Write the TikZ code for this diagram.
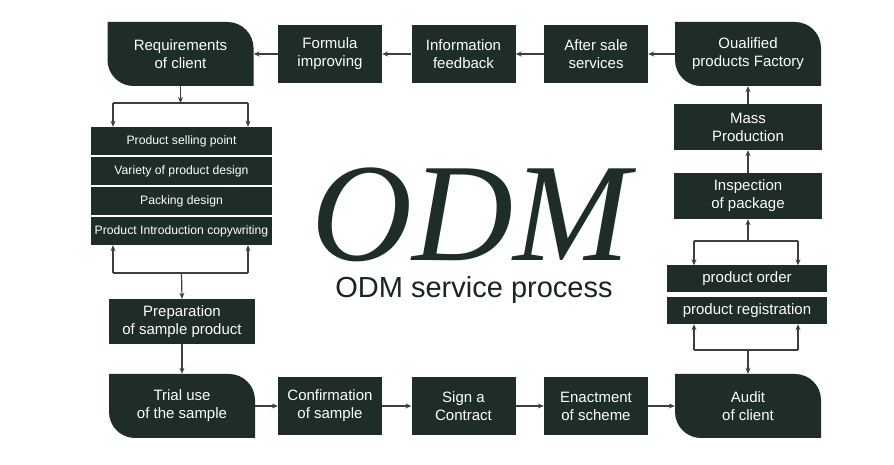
\documentclass[tikz,border=0pt]{standalone}
\usepackage{fontspec}
\setmainfont{Liberation Sans}
\newfontfamily\odmserif{Liberation Serif}
\usetikzlibrary{arrows.meta}

\definecolor{boxdark}{RGB}{30,44,42}
\definecolor{linegray}{RGB}{62,62,62}

\tikzset{
  stepbox/.style={fill=boxdark, text=white, align=center, inner sep=0pt,
    font=\fontsize{15}{18}\selectfont, minimum width=104pt, minimum height=58pt},
  leafbox/.style={stepbox, fill=none, minimum width=146pt, minimum height=64pt,
    path picture={
      \fill[boxdark] (path picture bounding box.north west)
        -- ([xshift=-26pt]path picture bounding box.north east)
        arc[start angle=90, end angle=0, radius=26pt]
        -- (path picture bounding box.south east)
        -- ([xshift=26pt]path picture bounding box.south west)
        arc[start angle=270, end angle=180, radius=26pt] -- cycle;}},
  listbox/.style={stepbox, minimum width=181pt, minimum height=28pt, font=\fontsize{12.2}{14}\selectfont},
  orderbox/.style={stepbox, minimum width=160pt, minimum height=27pt},
  wire/.style={draw=linegray, line width=1.2pt},
  flow/.style={wire, -{Stealth[length=6pt,width=5pt]}},
}

\begin{document}
\begin{tikzpicture}[x=1pt, y=1pt]
  \useasboundingbox (0,0) rectangle (894,465);
  \fill[white] (0,0) rectangle (894,465);

  % top row
  \node[leafbox] (req) at (180.5,411) {Requirements\\of client};
  \node[stepbox] (formula) at (330,411) {Formula\\improving};
  \node[stepbox] (info) at (463.5,411) {Information\\feedback};
  \node[stepbox] (after) at (596,411) {After sale\\services};
  \node[leafbox] (factory) at (748,411) {Oualified\\products Factory};

  % right column
  \node[stepbox, minimum width=148pt, minimum height=46pt] (mass) at (748,338) {Mass\\Production};
  \node[stepbox, minimum width=148pt, minimum height=46pt] (insp) at (748,269) {Inspection\\of package};
  \node[orderbox] (order) at (747,186) {product order};
  \node[orderbox] (regis) at (747,154.5) {product registration};

  % bottom row
  \node[leafbox] (trial) at (182,59) {Trial use\\of the sample};
  \node[stepbox] (confirm) at (330,59) {Confirmation\\of sample};
  \node[stepbox] (sign) at (463.5,59) {Sign a\\Contract};
  \node[stepbox] (enact) at (596,59) {Enactment\\of scheme};
  \node[leafbox] (audit) at (748,59) {Audit\\of client};

  % left column
  \node[listbox] (sell) at (181.5,324) {Product selling point};
  \node[listbox] (variety) at (181.5,294) {Variety of product design};
  \node[listbox] (packing) at (181.5,264) {Packing design};
  \node[listbox] (intro) at (181.5,234) {Product Introduction copywriting};
  \node[stepbox, minimum width=146pt, minimum height=45pt] (prep) at (182,143.5) {Preparation\\of sample product};

  % title
  \node[anchor=base, inner sep=0pt, text depth=0pt, text=boxdark,
    font=\odmserif\itshape\fontsize{140}{140}\selectfont] (odm) at (471,204) {ODM};
  \node[anchor=base, inner sep=0pt, text=boxdark!85!black,
    font=\fontsize{29}{30}\selectfont] (subtitle) at (474,167) {ODM service process};

  % branch points
  \coordinate (tl) at (180.5,362);
  \coordinate (tlw) at (113,362);
  \coordinate (tle) at (248,362);
  \coordinate (bl) at (181.5,192);
  \coordinate (blw) at (113,192);
  \coordinate (ble) at (248,192);
  \coordinate (tr) at (748,224);
  \coordinate (trw) at (694,224);
  \coordinate (tre) at (798,224);
  \coordinate (br) at (748,115);
  \coordinate (brw) at (694,115);
  \coordinate (bre) at (798,115);

  % connectors top row
  \draw[flow] (factory.west) -- (after.east);
  \draw[flow] (after.west) -- (info.east);
  \draw[flow] (info.west) -- (formula.east);
  \draw[flow] (formula.west) -- (req.east);

  % left side
  \draw[flow] (req.south) -- (tl);
  \draw[wire] (tlw) -- (tle);
  \draw[flow] (tlw) -- (sell.north -| tlw);
  \draw[flow] (tle) -- (sell.north -| tle);
  \draw[wire] (blw) -- (ble);
  \draw[flow] (blw) -- (intro.south -| blw);
  \draw[flow] (ble) -- (intro.south -| ble);
  \draw[flow] (bl) -- (prep.north);
  \draw[flow] (prep.south) -- (trial.north -| prep.south);

  % bottom row
  \draw[flow] (trial.east) -- (confirm.west);
  \draw[flow] (confirm.east) -- (sign.west);
  \draw[flow] (sign.east) -- (enact.west);
  \draw[flow] (enact.east) -- (audit.west);

  % right side
  \draw[wire] (brw) -- (bre);
  \draw[flow] (brw) -- (regis.south -| brw);
  \draw[flow] (bre) -- (regis.south -| bre);
  \draw[flow] (br) -- (audit.north);
  \draw[wire] (trw) -- (tre);
  \draw[flow] (trw) -- (order.north -| trw);
  \draw[flow] (tre) -- (order.north -| tre);
  \draw[flow] (tr) -- (insp.south);
  \draw[flow] (insp.north) -- (mass.south);
  \draw[flow] (mass.north) -- (factory.south);
\end{tikzpicture}
\end{document}
